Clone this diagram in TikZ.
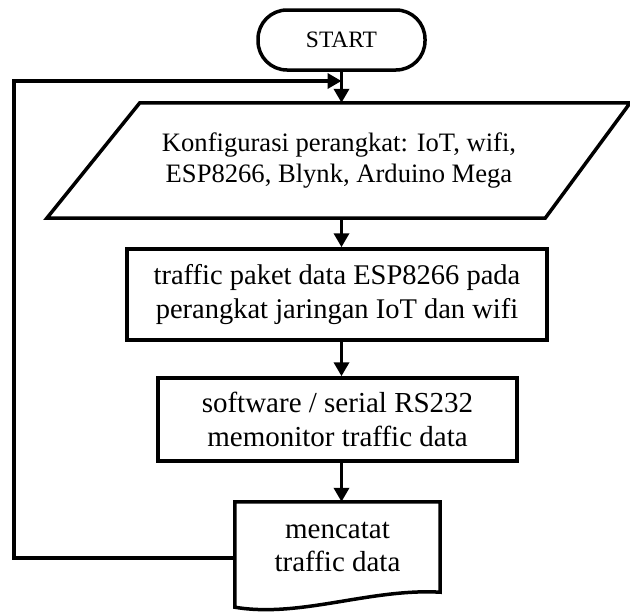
\documentclass[tikz,border=0pt]{standalone}
\usepackage{fontspec}
\setmainfont{Liberation Serif}
\usetikzlibrary{arrows.meta}

\tikzset{
    garis/.style={line width=3.5pt},
    panah/.style={garis,-{Triangle[length=14pt,width=15pt]}},
    kotak/.style={draw,garis,rectangle,align=center,inner sep=0pt},
}

\begin{document}
\begin{tikzpicture}[x=1pt,y=-1pt]
    \useasboundingbox (0,0) rectangle (630,613);

    % Mulai
    \node[kotak,rounded corners=29pt,minimum width=167pt,minimum height=60pt,
          font=\fontsize{23.5pt}{27pt}\selectfont] (start) at (341.5,40) {START};

    % Konfigurasi (jajar genjang)
    \node[align=center,minimum width=490pt,minimum height=115pt,inner sep=0pt,
          font=\fontsize{26.6pt}{30.5pt}\selectfont] (konf) at (339,160.5)
          {Konfigurasi perangkat: IoT, wifi,\\ESP8266, Blynk, Arduino Mega};
    \draw[garis] ([xshift=46pt]konf.north west) -- ([xshift=46pt]konf.north east)
        -- ([xshift=-39pt]konf.south east) -- ([xshift=-47pt]konf.south west) -- cycle;

    % Proses
    \node[kotak,minimum width=420pt,minimum height=91pt,
          font=\fontsize{28.5pt}{33.3pt}\selectfont] (paket) at (337,294.5)
          {traffic paket data ESP8266 pada\\perangkat jaringan IoT dan wifi};
    \node[kotak,minimum width=359pt,minimum height=83pt,
          font=\fontsize{29pt}{34.5pt}\selectfont] (monitor) at (337.5,419.5)
          {software / serial RS232\\memonitor traffic data};

    % Dokumen
    \node[align=center,minimum width=205pt,minimum height=90pt,inner sep=0pt,
          font=\fontsize{29pt}{33.5pt}\selectfont] (catat) at (337.5,547)
          {mencatat\\traffic data};
    \draw[garis] ([yshift=-15pt]catat.south west) -- (catat.north west)
        -- (catat.north east) -- (catat.south east)
        .. controls +(-70,-4) and +(65,11) .. ([yshift=-15pt]catat.south west) -- cycle;

    % Panah
    \draw[panah] (start.south) -- (start.south |- konf.north);
    \draw[panah] (konf.south -| start) -- (paket.north -| start);
    \draw[panah] (paket.south -| start) -- (monitor.north -| start);
    \draw[panah] (monitor.south -| start) -- (catat.north -| start);

    % Kembali
    \coordinate (gabung) at (341.5,81);
    \coordinate (sudut) at (14,81);
    \draw[panah] ([yshift=-11pt]catat.west) -| (sudut) -- (gabung);
\end{tikzpicture}
\end{document}
